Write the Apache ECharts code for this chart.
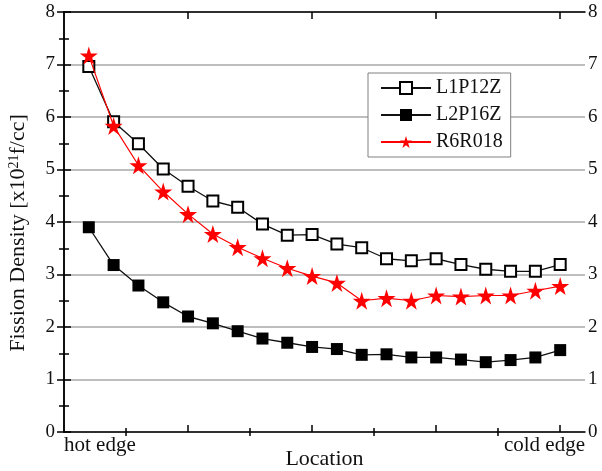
<!DOCTYPE html>
<html>
<head>
<meta charset="utf-8">
<title>Fission Density</title>
<script src="https://cdn.jsdelivr.net/npm/echarts@6/dist/echarts.min.js"></script>
<style>
  html, body { margin: 0; padding: 0; background: #fff; }
  #chart { width: 602px; height: 471px; }
</style>
</head>
<body>
<div id="chart"></div>
<script>
// location index 1 (hot edge) .. 20 (cold edge)
var positions = [1, 2, 3, 4, 5, 6, 7, 8, 9, 10, 11, 12, 13, 14, 15, 16, 17, 18, 19, 20]
var l1p12z = [6.96, 5.91, 5.49, 5.01, 4.68, 4.40, 4.28, 3.96, 3.75, 3.76, 3.58, 3.51, 3.30, 3.26, 3.30, 3.19, 3.10, 3.06, 3.06, 3.19]
var l2p16z = [3.90, 3.18, 2.79, 2.47, 2.20, 2.07, 1.92, 1.78, 1.70, 1.62, 1.58, 1.47, 1.48, 1.42, 1.42, 1.38, 1.33, 1.37, 1.42, 1.56]
var r6r018 = [7.17, 5.83, 5.08, 4.58, 4.15, 3.77, 3.52, 3.31, 3.12, 2.97, 2.84, 2.50, 2.55, 2.50, 2.60, 2.58, 2.60, 2.60, 2.69, 2.78]
var majorTicksX = [5, 10, 15, 20]
var minorTicksX = [2.5, 7.5, 12.5, 17.5]
var edgeLabels = ['hot edge', 'cold edge']

var font = 'Liberation Serif'
var star = 'path://M50,0 L61,35 L98,35 L68,57 L79,91 L50,70 L21,91 L32,57 L2,35 L39,35 Z'

function pairs (ys) {
  return ys.map(function (v, i) { return [positions[i], v] })
}

var chart = echarts.init(document.getElementById('chart'))

var line = { color: '#000', width: 1.5 }

function xAx (pos, ticks, len, opts) {
  var a = {
    type: 'value', min: 0, max: 21, position: pos,
    axisLine: { show: true, onZero: false, lineStyle: line },
    axisTick: { show: true, inside: true, length: len, customValues: ticks, lineStyle: line },
    axisLabel: { show: false },
    splitLine: { show: false }
  }
  return Object.assign(a, opts || {})
}

var option = {
  animation: false,
  backgroundColor: '#fff',
  grid: { left: 64, right: 17, top: 12, bottom: 39, outerBoundsMode: 'none', containLabel: false },
  legend: {
    orient: 'vertical',
    left: 368, top: 73,
    backgroundColor: '#fff',
    borderColor: '#808080',
    borderWidth: 1,
    padding: [5, 8, 5, 12],
    itemWidth: 50,
    itemHeight: 15,
    itemGap: 7,
    textStyle: { fontFamily: font, fontSize: 20, color: '#111' },
    data: ['L1P12Z', 'L2P16Z', 'R6R018']
  },
  xAxis: [
    xAx('bottom', majorTicksX, 7, {
      name: 'Location',
      nameLocation: 'middle',
      nameGap: 16,
      nameMoveOverlap: false,
      nameTextStyle: { fontFamily: font, fontSize: 22, color: '#111' },
      axisLabel: {
        show: true, customValues: [0], margin: 3, align: 'left',
        fontFamily: font, fontSize: 21, color: '#111',
        formatter: function () { return edgeLabels[0] }
      }
    }),
    xAx('bottom', minorTicksX, 4, {
      axisLine: { show: false },
      axisLabel: {
        show: true, customValues: [21], margin: 3, align: 'right',
        fontFamily: font, fontSize: 21, color: '#111',
        formatter: function () { return edgeLabels[1] }
      }
    }),
    xAx('top', majorTicksX, 7),
    xAx('top', minorTicksX, 4, { axisLine: { show: false } })
  ],
  yAxis: [
    {
      type: 'value', min: 0, max: 8, interval: 1, position: 'left',
      name: 'Fission Density [x10{sup|21}f/cc]',
      nameLocation: 'middle',
      nameGap: 34,
      nameMoveOverlap: false,
      nameTextStyle: {
        fontFamily: font, fontSize: 22, color: '#111',
        padding: [0, 22, 0, 0],
        rich: { sup: { fontFamily: font, fontSize: 14, color: '#111', verticalAlign: 'top', padding: [0, 0, 9, 0] } }
      },
      axisLine: { show: true, lineStyle: line },
      axisTick: { show: true, inside: true, length: 7, lineStyle: line },
      minorTick: { show: true, splitNumber: 2, length: 5, lineStyle: { color: '#000', width: 1.5 } },
      axisLabel: { margin: 9, fontFamily: font, fontSize: 19, color: '#111' },
      splitLine: { show: true, lineStyle: { color: '#a8a8a8', width: 1.5 } }
    },
    {
      type: 'value', min: 0, max: 8, interval: 1, position: 'right',
      axisLine: { show: true, lineStyle: line },
      axisTick: { show: true, inside: true, length: 7, lineStyle: line },
      minorTick: { show: true, splitNumber: 2, length: 5, lineStyle: { color: '#000', width: 1.5 } },
      axisLabel: { margin: 3, fontFamily: font, fontSize: 19, color: '#111' },
      splitLine: { show: false }
    }
  ],
  series: [
    {
      name: 'L1P12Z', type: 'line', xAxisIndex: 0, yAxisIndex: 0,
      data: pairs(l1p12z),
      symbol: 'rect', symbolSize: 11,
      lineStyle: { color: '#111', width: 1.3 },
      itemStyle: { color: '#fff', borderColor: '#000', borderWidth: 2 },
      z: 3
    },
    {
      name: 'L2P16Z', type: 'line', xAxisIndex: 0, yAxisIndex: 0,
      data: pairs(l2p16z),
      symbol: 'rect', symbolSize: 12,
      lineStyle: { color: '#111', width: 1.3 },
      itemStyle: { color: '#000', borderColor: '#000', borderWidth: 0 },
      z: 3
    },
    {
      name: 'R6R018', type: 'line', xAxisIndex: 0, yAxisIndex: 0,
      data: pairs(r6r018),
      symbol: star, symbolSize: 18,
      lineStyle: { color: '#ff0000', width: 1.2 },
      itemStyle: { color: '#ff0000', borderWidth: 0 },
      z: 4
    }
  ]
}

chart.setOption(option)
</script>
</body>
</html>
